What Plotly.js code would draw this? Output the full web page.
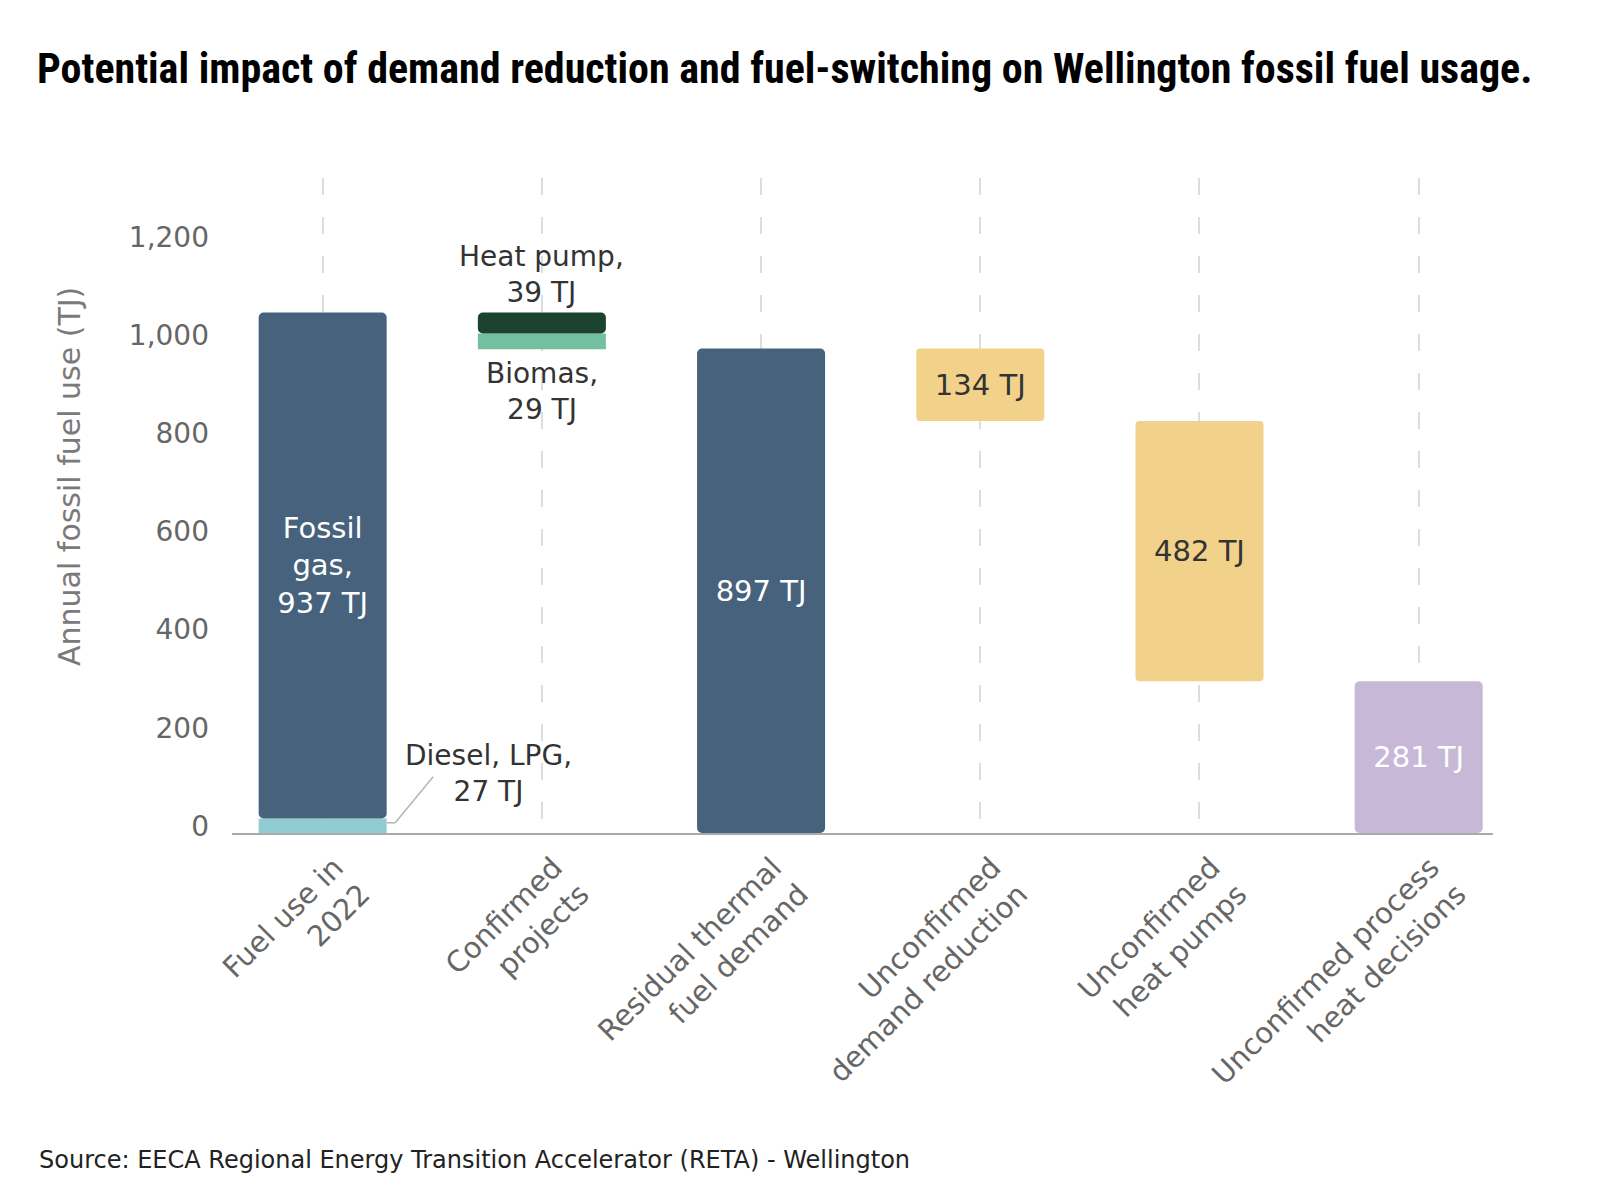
<!DOCTYPE html>
<html>
<head>
<meta charset="utf-8">
<script src="https://cdn.plot.ly/plotly-3.0.1.min.js"></script>
<style>
  html, body { margin: 0; padding: 0; background: #ffffff; }
  #chart { width: 1600px; height: 1200px; }
</style>
</head>
<body>
<div id="chart"></div>
<script>
// ---- Data ----
const categories = [
  "Fuel use in<br>2022",
  "Confirmed<br>projects",
  "Residual thermal<br>fuel demand",
  "Unconfirmed<br>demand reduction",
  "Unconfirmed<br>heat pumps",
  "Unconfirmed process<br>heat decisions"
];
const dieselLpg = 27;        // TJ, Fuel use in 2022
const fossilGas = 937;       // TJ, Fuel use in 2022
const biomass = 29;          // TJ, confirmed projects
const heatPump = 39;         // TJ, confirmed projects
const residual = 897;        // TJ, residual thermal fuel demand
const unconfirmedDemand = 134;    // TJ
const unconfirmedHeatPumps = 482; // TJ
const remainingProcess = 281;     // TJ
const yTicks = [0, 200, 400, 600, 800, 1000, 1200];

// ---- Derived waterfall bases ----
const total2022 = dieselLpg + fossilGas;
const heatPumpBase = total2022 - heatPump;
const biomassBase = heatPumpBase - biomass;
const demandBase = residual - unconfirmedDemand;
const heatPumpsBase = demandBase - unconfirmedHeatPumps;

const FONT = "'DejaVu Sans', 'Noto Sans', sans-serif";
const barWidthGap = 0.416;
const halfBar = (1 - barWidthGap) / 2;

const common = {
  type: 'bar', hoverinfo: 'skip', showlegend: false,
  textangle: 0, constraintext: 'none', textposition: 'inside',
  insidetextanchor: 'middle', cliponaxis: false
};

const traces = [
  Object.assign({}, common, {
    x: [categories[0]], y: [dieselLpg], base: [0],
    marker: { color: '#8fcdd3', cornerradius: 0 }, text: ['']
  }),
  Object.assign({}, common, {
    x: [categories[0], categories[2]], y: [fossilGas, residual], base: [dieselLpg, 0],
    marker: { color: '#46627c', cornerradius: 5 },
    text: ['Fossil<br>gas,<br>' + fossilGas + ' TJ', residual + ' TJ'],
    textfont: { family: FONT, size: 29, color: '#ffffff' }
  }),
  Object.assign({}, common, {
    x: [categories[1]], y: [biomass], base: [biomassBase],
    marker: { color: '#73c0a0', cornerradius: 0 }, text: ['']
  }),
  Object.assign({}, common, {
    x: [categories[1]], y: [heatPump], base: [heatPumpBase],
    marker: { color: '#1c4330', cornerradius: 5 }, text: ['']
  }),
  Object.assign({}, common, {
    x: [categories[3], categories[4]], y: [unconfirmedDemand, unconfirmedHeatPumps],
    base: [demandBase, heatPumpsBase],
    marker: { color: '#f2d18b', cornerradius: 4 },
    text: [unconfirmedDemand + ' TJ', unconfirmedHeatPumps + ' TJ'],
    textfont: { family: FONT, size: 29, color: '#333333' }
  }),
  Object.assign({}, common, {
    x: [categories[5]], y: [remainingProcess], base: [0],
    marker: { color: '#c6b8d6', cornerradius: 5 },
    text: [remainingProcess + ' TJ'],
    textfont: { family: FONT, size: 29, color: '#ffffff' }
  }),
  // empty trace so that the labelled value axis (y2) is drawn
  { type: 'scatter', mode: 'none', x: [], y: [], yaxis: 'y2', hoverinfo: 'skip', showlegend: false }
];

const layout = {
  width: 1600, height: 1200,
  paper_bgcolor: '#ffffff', plot_bgcolor: '#ffffff',
  margin: { l: 232, r: 107, t: 178, b: 367 },
  barmode: 'overlay', bargap: barWidthGap,
  font: { family: FONT, color: '#333333' },
  title: {
    text: 'Potential impact of demand reduction and fuel-switching on Wellington fossil fuel usage.',
    font: { family: "'Liberation Sans Narrow', 'Roboto Condensed', 'DejaVu Sans Condensed', 'Arial Narrow', sans-serif", size: 42, color: '#000000', weight: 700 },
    xref: 'container', yref: 'container', x: 37 / 1600, xanchor: 'left',
    y: 1 - 68 / 1200, yanchor: 'middle'
  },
  xaxis: {
    type: 'category', categoryorder: 'array', categoryarray: categories,
    range: [-0.4136, 5.339], fixedrange: true,
    showline: true, linecolor: '#aaaaaa', linewidth: 2,
    showgrid: true, gridcolor: '#dddddd', gridwidth: 2, griddash: '17px,22px',
    ticks: '', tickangle: -45, ticklabelshift: 12, ticklabelstandoff: 4,
    tickfont: { family: FONT, size: 29, color: '#666666' }
  },
  // axis that positions the bars
  yaxis: {
    range: [0, 655 / 0.54], fixedrange: true,
    showticklabels: false, showgrid: false, zeroline: false, showline: false, ticks: ''
  },
  // axis that carries the printed tick labels
  yaxis2: {
    overlaying: 'y', anchor: 'x', side: 'left',
    range: [-14.3, 1320.3], fixedrange: true, tickvals: yTicks, tickformat: ',d',
    showgrid: false, zeroline: false, showline: false, ticks: '',
    ticklabelstandoff: 22,
    tickfont: { family: FONT, size: 28, color: '#666666' }
  },
  shapes: [
    { type: 'line', xref: 'x', yref: 'y', x0: halfBar, x1: 0.331, y0: dieselLpg * 0.7, y1: dieselLpg * 0.7,
      line: { color: '#b5b5b5', width: 1.5 } },
    { type: 'line', xref: 'x', yref: 'y', x0: 0.331, x1: 0.504, y0: dieselLpg * 0.7, y1: 104,
      line: { color: '#b5b5b5', width: 1.5 } }
  ],
  annotations: [
    { xref: 'paper', yref: 'paper', x: (69 - 232) / 1261, y: (833 - 476) / 655,
      xanchor: 'center', yanchor: 'middle', textangle: -90, showarrow: false,
      text: 'Annual fossil fuel use (TJ)',
      font: { family: FONT, size: 30, color: '#7a7a7a' } },
    { xref: 'x', yref: 'y', x: categories[1], y: total2022, yanchor: 'bottom', yshift: 1,
      text: 'Heat pump,<br>' + heatPump + ' TJ', showarrow: false,
      font: { family: FONT, size: 28, color: '#333333' } },
    { xref: 'x', yref: 'y', x: categories[1], y: biomassBase, yanchor: 'top', yshift: -6,
      text: 'Biomas,<br>' + biomass + ' TJ', showarrow: false,
      font: { family: FONT, size: 28, color: '#333333' } },
    { xref: 'x', yref: 'y', x: 0.755, y: 111, yanchor: 'middle',
      text: 'Diesel, LPG,<br>' + dieselLpg + ' TJ', showarrow: false,
      font: { family: FONT, size: 28, color: '#333333' } },
    { xref: 'paper', yref: 'paper', x: (37 - 232) / 1261, y: (833 - 1160) / 655,
      xanchor: 'left', yanchor: 'middle', showarrow: false,
      text: 'Source: EECA Regional Energy Transition Accelerator (RETA) - Wellington',
      font: { family: FONT, size: 24, color: '#222222' } }
  ]
};

Plotly.newPlot('chart', traces, layout, { staticPlot: true, displayModeBar: false });
</script>
</body>
</html>
